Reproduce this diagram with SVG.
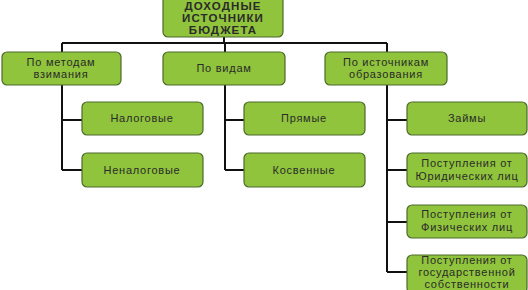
<svg xmlns="http://www.w3.org/2000/svg" width="528" height="290" viewBox="0 0 528 290">
<style>
.b{fill:#8fc43c;stroke:#4d6b2c;stroke-width:1.2}
.t{font-family:"Liberation Sans",Arial,sans-serif;font-size:11px;fill:#2b2b2b;text-anchor:middle;letter-spacing:0.75px}
.h{font-weight:bold;font-size:11.5px;letter-spacing:1.1px}
.c{fill:none;stroke:#111;stroke-width:2}
</style>
<rect width="528" height="290" fill="#fff"/>
<g id="connectors">
<path class="c" d="M224 37V43M62 43H387M62 43V52M225 43V52M387 43V52"/>
<path class="c" d="M62 85V170M62 120H82M62 170H82"/>
<path class="c" d="M225 85V170M225 120H244M225 170H244"/>
<path class="c" d="M387 85V272M387 120H407M387 170H407M387 222H407M387 272H407"/>
</g>
<g id="root"><rect class="b" x="163" y="-4" width="120" height="41" rx="5"/>
<text class="t h" x="223" y="10">ДОХОДНЫЕ</text><text class="t h" x="223" y="22">ИСТОЧНИКИ</text><text class="t h" x="223" y="34">БЮДЖЕТА</text></g>
<g id="n1"><rect class="b" x="2" y="52" width="119" height="33" rx="5"/>
<text class="t" x="61" y="66">По методам</text><text class="t" x="61" y="78">взимания</text></g>
<g id="n2"><rect class="b" x="163" y="52" width="122" height="33" rx="5"/>
<text class="t" x="224" y="72">По видам</text></g>
<g id="n3"><rect class="b" x="325" y="52" width="122" height="33" rx="5"/>
<text class="t" x="386" y="66">По источникам</text><text class="t" x="386" y="78">образования</text></g>
<g id="n4"><rect class="b" x="82" y="102" width="121" height="33" rx="5"/>
<text class="t" x="142" y="122">Налоговые</text></g>
<g id="n5"><rect class="b" x="82" y="153" width="121" height="34" rx="5"/>
<text class="t" x="142" y="174">Неналоговые</text></g>
<g id="n6"><rect class="b" x="244" y="102" width="121" height="33" rx="5"/>
<text class="t" x="304" y="122">Прямые</text></g>
<g id="n7"><rect class="b" x="244" y="153" width="121" height="34" rx="5"/>
<text class="t" x="304" y="174">Косвенные</text></g>
<g id="n8"><rect class="b" x="407" y="102" width="120" height="33" rx="5"/>
<text class="t" x="467" y="122">Займы</text></g>
<g id="n9"><rect class="b" x="407" y="153" width="120" height="34" rx="5"/>
<text class="t" x="467" y="167">Поступления от</text><text class="t" x="467" y="180">Юридических лиц</text></g>
<g id="n10"><rect class="b" x="407" y="205" width="120" height="33" rx="5"/>
<text class="t" x="467" y="218">Поступления от</text><text class="t" x="467" y="231">Физических лиц</text></g>
<g id="n11"><rect class="b" x="407" y="255" width="120" height="38" rx="5"/>
<text class="t" x="467" y="264">Поступления от</text><text class="t" x="467" y="276">государственной</text><text class="t" x="467" y="288">собственности</text></g>
</svg>
